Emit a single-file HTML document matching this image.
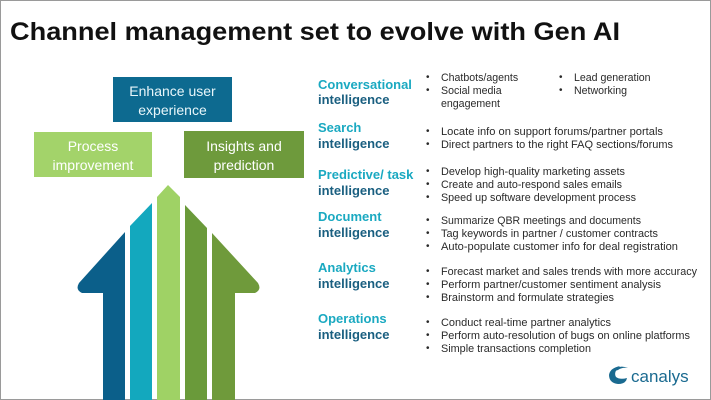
<!DOCTYPE html>
<html><head><meta charset="utf-8"><style>
html,body{margin:0;padding:0;background:#fff}
svg{display:block}
text{font-family:"Liberation Sans",sans-serif}
.h{font-size:13px;font-weight:bold;fill:#1aa9c1}
.i{font-size:13px;font-weight:bold;fill:#1a5f80}
.b{font-size:10.6px;fill:#2a2a2a}
.d{font-size:10px;fill:#2a2a2a}
</style></head><body>
<svg width="711" height="400" viewBox="0 0 711 400" xmlns="http://www.w3.org/2000/svg">
<rect x="0.5" y="0.5" width="710" height="399" fill="#fff" stroke="#9a9a9a"/>
<text x="10" y="40" font-size="25" font-weight="bold" fill="#111" textLength="610" lengthAdjust="spacingAndGlyphs">Channel management set to evolve with Gen AI</text>

<!-- boxes -->
<rect x="113" y="77" width="119" height="45" fill="#0d6a90"/>
<text x="172.5" y="96" font-size="14" fill="#e8f6fa" text-anchor="middle">Enhance user</text>
<text x="172.5" y="115" font-size="14" fill="#e8f6fa" text-anchor="middle">experience</text>
<rect x="34" y="132" width="118" height="45" fill="#a3d36a"/>
<text x="93" y="151" font-size="14" fill="#fff" text-anchor="middle">Process</text>
<text x="93" y="170" font-size="14" fill="#fff" text-anchor="middle">improvement</text>
<rect x="184" y="131" width="120" height="47" fill="#6e9a3c"/>
<text x="244" y="151" font-size="14" fill="#fff" text-anchor="middle">Insights and</text>
<text x="244" y="170" font-size="14" fill="#fff" text-anchor="middle">prediction</text>

<!-- arrows -->
<path d="M125,232 L79,283 Q75,290 82,293 L103,293 L103,400 L125,400 Z" fill="#0b5f8a"/>
<path d="M130,226 L152,203 L152,400 L130,400 Z" fill="#13a8be"/>
<path d="M157,197 L168,185 L180,197 L180,400 L157,400 Z" fill="#9fd265"/>
<path d="M185,205 L207,228 L207,400 L185,400 Z" fill="#6a9a3a"/>
<path d="M212,233 L258,283 Q262,290 255,293 L235,293 L235,400 L212,400 Z" fill="#6f9a3b"/>

<!-- right text -->
<text class="h" x="318" y="89">Conversational</text>
<text class="i" x="318" y="104">intelligence</text>
<text class="d" x="426" y="80">•</text><text class="b" x="441" y="81">Chatbots/agents</text>
<text class="d" x="426" y="93">•</text><text class="b" x="441" y="94">Social media</text>
<text class="b" x="441" y="107">engagement</text>
<text class="d" x="559" y="80">•</text><text class="b" x="574" y="81">Lead generation</text>
<text class="d" x="559" y="93">•</text><text class="b" x="574" y="94">Networking</text>

<text class="h" x="318" y="132">Search</text>
<text class="i" x="318" y="148">intelligence</text>
<text class="d" x="426" y="134">•</text><text class="b" x="441" y="135" textLength="222" lengthAdjust="spacingAndGlyphs">Locate info on support forums/partner portals</text>
<text class="d" x="426" y="147">•</text><text class="b" x="441" y="148" textLength="232" lengthAdjust="spacingAndGlyphs">Direct partners to the right FAQ sections/forums</text>

<text class="h" x="318" y="179">Predictive/ task</text>
<text class="i" x="318" y="195">intelligence</text>
<text class="d" x="426" y="174">•</text><text class="b" x="441" y="175" textLength="184" lengthAdjust="spacingAndGlyphs">Develop high-quality marketing assets</text>
<text class="d" x="426" y="187">•</text><text class="b" x="441" y="188" textLength="181" lengthAdjust="spacingAndGlyphs">Create and auto-respond sales emails</text>
<text class="d" x="426" y="200">•</text><text class="b" x="441" y="201" textLength="195" lengthAdjust="spacingAndGlyphs">Speed up software development process</text>

<text class="h" x="318" y="221">Document</text>
<text class="i" x="318" y="237">intelligence</text>
<text class="d" x="426" y="223">•</text><text class="b" x="441" y="224" textLength="200" lengthAdjust="spacingAndGlyphs">Summarize QBR meetings and documents</text>
<text class="d" x="426" y="236">•</text><text class="b" x="441" y="237" textLength="217" lengthAdjust="spacingAndGlyphs">Tag keywords in partner / customer contracts</text>
<text class="d" x="426" y="249">•</text><text class="b" x="441" y="250" textLength="237" lengthAdjust="spacingAndGlyphs">Auto-populate customer info for deal registration</text>

<text class="h" x="318" y="272">Analytics</text>
<text class="i" x="318" y="288">intelligence</text>
<text class="d" x="426" y="274">•</text><text class="b" x="441" y="275" textLength="256" lengthAdjust="spacingAndGlyphs">Forecast market and sales trends with more accuracy</text>
<text class="d" x="426" y="287">•</text><text class="b" x="441" y="288" textLength="220" lengthAdjust="spacingAndGlyphs">Perform partner/customer sentiment analysis</text>
<text class="d" x="426" y="300">•</text><text class="b" x="441" y="301" textLength="173" lengthAdjust="spacingAndGlyphs">Brainstorm and formulate strategies</text>

<text class="h" x="318" y="323">Operations</text>
<text class="i" x="318" y="339">intelligence</text>
<text class="d" x="426" y="325">•</text><text class="b" x="441" y="326" textLength="170" lengthAdjust="spacingAndGlyphs">Conduct real-time partner analytics</text>
<text class="d" x="426" y="338">•</text><text class="b" x="441" y="339" textLength="249" lengthAdjust="spacingAndGlyphs">Perform auto-resolution of bugs on online platforms</text>
<text class="d" x="426" y="351">•</text><text class="b" x="441" y="352" textLength="150" lengthAdjust="spacingAndGlyphs">Simple transactions completion</text>

<!-- logo -->
<path d="M620,366 Q610,368 609,375 Q609,383 618,384 Q626,384 627,378 Q620,380 616,377 Q613,372 620,366 Z" fill="#1a6a90"/>
<path d="M612,372 Q618,364 628,368 Q622,367 618,370 Z" fill="#1a6a90"/>
<text x="631" y="382" font-size="17" fill="#1a6a90">canalys</text>
</svg>
</body></html>
